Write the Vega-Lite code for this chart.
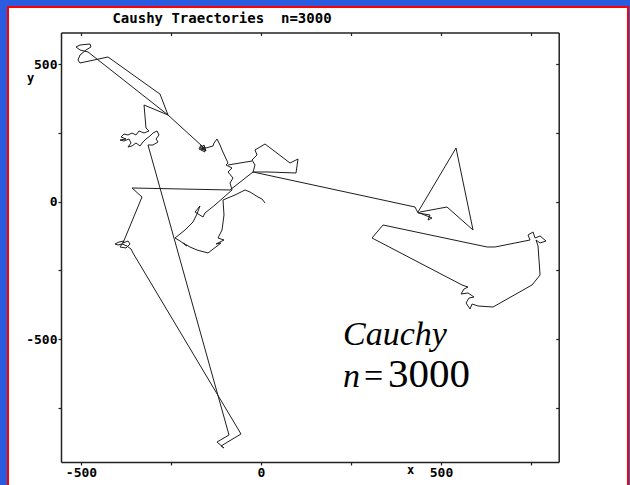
{
  "$schema": "https://vega.github.io/schema/vega-lite/v6.json",
  "width": 620,
  "height": 479,
  "autosize": "none",
  "padding": {"left": 8, "top": 7, "right": 2, "bottom": 0},
  "background": "#2b5ce0",
  "config": {
    "view": {"fill": "white", "stroke": "#ff0000", "strokeWidth": 2},
    "axis": {
      "domainColor": "#222222", "domainWidth": 1.5, "tickColor": "#222222", "tickWidth": 1.2,
      "grid": false, "labelFont": "DejaVu Sans Mono", "labelFontWeight": "bold", "labelFontSize": 13,
      "labelColor": "#000000", "titleFont": "DejaVu Sans Mono", "titleFontWeight": "bold", "titleFontSize": 12, "titleColor": "#000000"
    }
  },
  "title": {
    "text": "Caushy Traectories\u00a0 n=3000",
    "font": "DejaVu Sans Mono", "fontSize": 14, "fontWeight": "bold", "color": "#000000",
    "anchor": "middle", "frame": "group", "offset": 0, "baseline": "middle", "dx": -96, "dy": 26
  },
  "resolve": {"scale": {"x": "shared", "y": "shared"}, "axis": {"x": "independent", "y": "independent"}},
  "layer": [
    {
      "data": {"values": [
        {"seg": 1, "ord": 1, "x": 11.1, "y": -4.7},
        {"seg": 1, "ord": 2, "x": 2.8, "y": 9.8},
        {"seg": 1, "ord": 3, "x": -8.3, "y": 17.1},
        {"seg": 1, "ord": 4, "x": -30.6, "y": 35.3},
        {"seg": 1, "ord": 5, "x": -44.4, "y": 42.6},
        {"seg": 1, "ord": 6, "x": -72.2, "y": 24.4},
        {"seg": 1, "ord": 7, "x": -105.6, "y": 6.2},
        {"seg": 1, "ord": 8, "x": -102.8, "y": -48.4},
        {"seg": 1, "ord": 9, "x": -108.3, "y": -103.0},
        {"seg": 1, "ord": 10, "x": -119.5, "y": -132.1},
        {"seg": 1, "ord": 11, "x": -102.8, "y": -139.4},
        {"seg": 1, "ord": 12, "x": -125.0, "y": -153.9},
        {"seg": 1, "ord": 13, "x": -111.1, "y": -150.3},
        {"seg": 1, "ord": 14, "x": -147.2, "y": -186.7},
        {"seg": 1, "ord": 15, "x": -177.8, "y": -175.8},
        {"seg": 1, "ord": 16, "x": -197.2, "y": -164.8},
        {"seg": 1, "ord": 17, "x": -216.7, "y": -150.3},
        {"seg": 1, "ord": 18, "x": -205.6, "y": -161.2},
        {"seg": 1, "ord": 19, "x": -225.0, "y": -143.0},
        {"seg": 1, "ord": 20, "x": -238.9, "y": -132.1},
        {"seg": 1, "ord": 21, "x": -211.1, "y": -103.0},
        {"seg": 1, "ord": 22, "x": -188.9, "y": -73.9},
        {"seg": 1, "ord": 23, "x": -177.8, "y": -44.8},
        {"seg": 1, "ord": 24, "x": -169.5, "y": -15.6},
        {"seg": 1, "ord": 25, "x": -183.3, "y": -37.5},
        {"seg": 1, "ord": 26, "x": -161.1, "y": -55.7},
        {"seg": 1, "ord": 27, "x": -155.6, "y": -41.1},
        {"seg": 1, "ord": 28, "x": -127.8, "y": -12.0},
        {"seg": 1, "ord": 29, "x": -80.6, "y": 42.6},
        {"seg": 1, "ord": 30, "x": -86.1, "y": 68.0},
        {"seg": 1, "ord": 31, "x": -77.8, "y": 86.2},
        {"seg": 1, "ord": 32, "x": -91.7, "y": 108.1},
        {"seg": 1, "ord": 33, "x": -80.6, "y": 122.6},
        {"seg": 1, "ord": 34, "x": -97.2, "y": 133.6},
        {"seg": 1, "ord": 35, "x": -91.7, "y": 140.8},
        {"seg": 1, "ord": 36, "x": -108.3, "y": 188.1},
        {"seg": 1, "ord": 37, "x": -113.9, "y": 206.3},
        {"seg": 1, "ord": 38, "x": -122.2, "y": 228.2},
        {"seg": 1, "ord": 39, "x": -130.6, "y": 213.6},
        {"seg": 1, "ord": 40, "x": -133.3, "y": 202.7},
        {"seg": 1, "ord": 41, "x": -152.8, "y": 195.4},
        {"seg": 1, "ord": 42, "x": -161.1, "y": 199.1},
        {"seg": 1, "ord": 43, "x": -166.7, "y": 188.1},
        {"seg": 1, "ord": 44, "x": -155.6, "y": 191.8},
        {"seg": 1, "ord": 45, "x": -169.5, "y": 195.4},
        {"seg": 1, "ord": 46, "x": -158.3, "y": 206.3},
        {"seg": 1, "ord": 47, "x": -152.8, "y": 184.4},
        {"seg": 1, "ord": 48, "x": -166.7, "y": 206.3},
        {"seg": 1, "ord": 49, "x": -172.2, "y": 191.8},
        {"seg": 1, "ord": 50, "x": -155.6, "y": 180.9},
        {"seg": 1, "ord": 51, "x": -163.9, "y": 202.7},
        {"seg": 1, "ord": 52, "x": -258.4, "y": 315.5},
        {"seg": 1, "ord": 53, "x": -480.6, "y": 544.8},
        {"seg": 1, "ord": 54, "x": -502.8, "y": 552.0},
        {"seg": 1, "ord": 55, "x": -513.9, "y": 563.0},
        {"seg": 1, "ord": 56, "x": -502.8, "y": 570.2},
        {"seg": 1, "ord": 57, "x": -475.0, "y": 573.9},
        {"seg": 1, "ord": 58, "x": -472.3, "y": 563.0},
        {"seg": 1, "ord": 59, "x": -486.2, "y": 552.0},
        {"seg": 1, "ord": 60, "x": -502.8, "y": 533.8},
        {"seg": 1, "ord": 61, "x": -508.4, "y": 515.6},
        {"seg": 1, "ord": 62, "x": -502.8, "y": 504.7},
        {"seg": 1, "ord": 63, "x": -425.0, "y": 526.6},
        {"seg": 1, "ord": 64, "x": -288.9, "y": 399.2},
        {"seg": 1, "ord": 65, "x": -280.6, "y": 391.9},
        {"seg": 1, "ord": 66, "x": -258.4, "y": 315.5},
        {"seg": 1, "ord": 67, "x": -325.0, "y": 351.9},
        {"seg": 1, "ord": 68, "x": -319.5, "y": 268.2},
        {"seg": 1, "ord": 69, "x": -311.1, "y": 257.3},
        {"seg": 1, "ord": 70, "x": -325.0, "y": 250.0},
        {"seg": 1, "ord": 71, "x": -338.9, "y": 257.3},
        {"seg": 1, "ord": 72, "x": -347.3, "y": 242.7},
        {"seg": 1, "ord": 73, "x": -358.4, "y": 250.0},
        {"seg": 1, "ord": 74, "x": -369.5, "y": 242.7},
        {"seg": 1, "ord": 75, "x": -380.6, "y": 246.4},
        {"seg": 1, "ord": 76, "x": -388.9, "y": 235.4},
        {"seg": 1, "ord": 77, "x": -375.0, "y": 228.2},
        {"seg": 1, "ord": 78, "x": -391.7, "y": 224.5},
        {"seg": 1, "ord": 79, "x": -380.6, "y": 220.9},
        {"seg": 1, "ord": 80, "x": -366.7, "y": 228.2},
        {"seg": 1, "ord": 81, "x": -361.1, "y": 213.6},
        {"seg": 1, "ord": 82, "x": -369.5, "y": 199.1},
        {"seg": 1, "ord": 83, "x": -358.4, "y": 202.7},
        {"seg": 1, "ord": 84, "x": -347.3, "y": 213.6},
        {"seg": 1, "ord": 85, "x": -336.1, "y": 202.7},
        {"seg": 1, "ord": 86, "x": -327.8, "y": 217.3},
        {"seg": 1, "ord": 87, "x": -319.5, "y": 228.2},
        {"seg": 1, "ord": 88, "x": -308.4, "y": 239.1},
        {"seg": 1, "ord": 89, "x": -300.0, "y": 250.0},
        {"seg": 1, "ord": 90, "x": -288.9, "y": 257.3},
        {"seg": 1, "ord": 91, "x": -283.4, "y": 242.7},
        {"seg": 1, "ord": 92, "x": -291.7, "y": 228.2},
        {"seg": 1, "ord": 93, "x": -286.1, "y": 217.3},
        {"seg": 1, "ord": 94, "x": -300.0, "y": 206.3},
        {"seg": 1, "ord": 95, "x": -313.9, "y": 206.3},
        {"seg": 1, "ord": 96, "x": -88.9, "y": -849.0},
        {"seg": 1, "ord": 97, "x": -122.2, "y": -874.5},
        {"seg": 1, "ord": 98, "x": -102.8, "y": -896.3},
        {"seg": 1, "ord": 99, "x": -111.1, "y": -889.0},
        {"seg": 1, "ord": 100, "x": -55.6, "y": -845.3},
        {"seg": 1, "ord": 101, "x": -355.6, "y": -186.7},
        {"seg": 1, "ord": 102, "x": -361.1, "y": -172.1},
        {"seg": 1, "ord": 103, "x": -372.2, "y": -161.2},
        {"seg": 1, "ord": 104, "x": -386.1, "y": -153.9},
        {"seg": 1, "ord": 105, "x": -397.3, "y": -157.6},
        {"seg": 1, "ord": 106, "x": -405.6, "y": -153.9},
        {"seg": 1, "ord": 107, "x": -394.5, "y": -146.7},
        {"seg": 1, "ord": 108, "x": -380.6, "y": -143.0},
        {"seg": 1, "ord": 109, "x": -391.7, "y": -164.8},
        {"seg": 1, "ord": 110, "x": -375.0, "y": -168.5},
        {"seg": 1, "ord": 111, "x": -363.9, "y": -153.9},
        {"seg": 1, "ord": 112, "x": -369.5, "y": -143.0},
        {"seg": 1, "ord": 113, "x": -383.4, "y": -150.3},
        {"seg": 1, "ord": 114, "x": -330.6, "y": 17.1},
        {"seg": 1, "ord": 115, "x": -358.4, "y": 49.9},
        {"seg": 1, "ord": 116, "x": -86.1, "y": 42.6},
        {"seg": 1, "ord": 117, "x": -22.2, "y": 108.1},
        {"seg": 1, "ord": 118, "x": -16.7, "y": 133.6},
        {"seg": 1, "ord": 119, "x": -25.0, "y": 151.7},
        {"seg": 1, "ord": 120, "x": -11.1, "y": 169.9},
        {"seg": 1, "ord": 121, "x": -16.7, "y": 188.1},
        {"seg": 1, "ord": 122, "x": -2.8, "y": 199.1},
        {"seg": 1, "ord": 123, "x": 11.1, "y": 210.0},
        {"seg": 1, "ord": 124, "x": 80.6, "y": 140.8},
        {"seg": 1, "ord": 125, "x": 102.8, "y": 155.4},
        {"seg": 1, "ord": 126, "x": 97.2, "y": 104.4},
        {"seg": 1, "ord": 127, "x": 19.4, "y": 108.1},
        {"seg": 1, "ord": 128, "x": -22.2, "y": 108.1},
        {"seg": 1, "ord": 129, "x": 427.8, "y": -19.3},
        {"seg": 1, "ord": 130, "x": 436.1, "y": -41.1},
        {"seg": 1, "ord": 131, "x": 469.5, "y": -48.4},
        {"seg": 1, "ord": 132, "x": 463.9, "y": -66.6},
        {"seg": 1, "ord": 133, "x": 475.0, "y": -59.3},
        {"seg": 1, "ord": 134, "x": 447.3, "y": -44.8},
        {"seg": 1, "ord": 135, "x": 436.1, "y": -37.5},
        {"seg": 1, "ord": 136, "x": 541.7, "y": 195.4},
        {"seg": 1, "ord": 137, "x": 588.9, "y": -103.0},
        {"seg": 1, "ord": 138, "x": 516.7, "y": -19.3},
        {"seg": 1, "ord": 139, "x": 441.7, "y": -37.5},
        {"seg": 2, "ord": 1, "x": 338.9, "y": -84.8},
        {"seg": 2, "ord": 2, "x": 627.8, "y": -164.8},
        {"seg": 2, "ord": 3, "x": 650.1, "y": -164.8},
        {"seg": 2, "ord": 4, "x": 747.3, "y": -139.4},
        {"seg": 2, "ord": 5, "x": 741.7, "y": -121.2},
        {"seg": 2, "ord": 6, "x": 755.6, "y": -110.3},
        {"seg": 2, "ord": 7, "x": 761.2, "y": -132.1},
        {"seg": 2, "ord": 8, "x": 775.1, "y": -124.8},
        {"seg": 2, "ord": 9, "x": 791.7, "y": -143.0},
        {"seg": 2, "ord": 10, "x": 775.1, "y": -150.3},
        {"seg": 2, "ord": 11, "x": 763.9, "y": -139.4},
        {"seg": 2, "ord": 12, "x": 769.5, "y": -161.2},
        {"seg": 2, "ord": 13, "x": 775.1, "y": -266.7},
        {"seg": 2, "ord": 14, "x": 752.8, "y": -303.1},
        {"seg": 2, "ord": 15, "x": 644.5, "y": -383.2},
        {"seg": 2, "ord": 16, "x": 602.8, "y": -379.5},
        {"seg": 2, "ord": 17, "x": 586.2, "y": -372.3},
        {"seg": 2, "ord": 18, "x": 580.6, "y": -390.5},
        {"seg": 2, "ord": 19, "x": 569.5, "y": -368.6},
        {"seg": 2, "ord": 20, "x": 577.8, "y": -350.4},
        {"seg": 2, "ord": 21, "x": 591.7, "y": -346.8},
        {"seg": 2, "ord": 22, "x": 575.0, "y": -332.2},
        {"seg": 2, "ord": 23, "x": 555.6, "y": -335.9},
        {"seg": 2, "ord": 24, "x": 563.9, "y": -317.7},
        {"seg": 2, "ord": 25, "x": 575.0, "y": -310.4},
        {"seg": 2, "ord": 26, "x": 558.4, "y": -303.1},
        {"seg": 2, "ord": 27, "x": 308.4, "y": -132.1},
        {"seg": 2, "ord": 28, "x": 338.9, "y": -84.8},
        {"seg": 3, "ord": 1, "x": -91.7, "y": 133.6},
        {"seg": 3, "ord": 2, "x": -58.3, "y": 140.8},
        {"seg": 3, "ord": 3, "x": -25.0, "y": 148.1}
      ]},
      "mark": {"type": "line", "color": "#1e1e1e", "strokeWidth": 1, "interpolate": "linear"},
      "encoding": {
        "x": {"field": "x", "type": "quantitative",
          "scale": {"domain": [-555.6, 826.9], "range": [53, 550.7], "nice": false, "zero": false},
          "axis": {"orient": "bottom", "offset": -24, "values": [-500, -250, 0, 250, 500, 750], "tickSize": 3, "labelPadding": 1,
            "labelExpr": "datum.value % 500 == 0 ? '' + datum.value : ''", "labelBaseline": "top",
            "title": "x", "titleX": 402, "titleY": 7, "titleBaseline": "middle", "titleAlign": "center"}},
        "y": {"field": "y", "type": "quantitative",
          "scale": {"domain": [-947.2, 615.7], "range": [455, 25.5], "nice": false, "zero": false},
          "axis": {"orient": "left", "offset": -53, "values": [-750, -500, -250, 0, 250, 500], "tickSize": 3, "labelPadding": 1,
            "labelExpr": "datum.value % 500 == 0 ? '' + datum.value : ''", "labelBaseline": "middle",
            "title": "y", "titleAngle": 0, "titleX": -31, "titleY": 70, "titleBaseline": "middle", "titleAlign": "center"}},
        "detail": {"field": "seg", "type": "nominal"},
        "order": {"field": "ord", "type": "quantitative"}
      }
    },
    {
      "data": {"values": [{"label": "Cauchy"}]},
      "mark": {"type": "text", "font": "Liberation Serif", "fontStyle": "italic", "fontSize": 34, "align": "left", "baseline": "alphabetic", "color": "#000000"},
      "encoding": {
        "text": {"field": "label"},
        "x": {"datum": 227.8, "type": "quantitative",
          "axis": {"orient": "top", "offset": -25.5, "values": [-500, -250, 0, 250, 500, 750], "tickSize": -3, "labels": false, "title": null}},
        "y": {"datum": -521.5, "type": "quantitative",
          "axis": {"orient": "right", "offset": -69.3, "values": [-750, -500, -250, 0, 250, 500], "tickSize": -3, "labels": false, "title": null}}
      }
    },
    {
      "data": {"values": [{"label": "n"}]},
      "mark": {"type": "text", "font": "Liberation Serif", "fontStyle": "italic", "fontSize": 34, "align": "left", "baseline": "alphabetic", "color": "#000000"},
      "encoding": {
        "text": {"field": "label"},
        "x": {"datum": 227.8, "type": "quantitative", "axis": null},
        "y": {"datum": -674.3, "type": "quantitative", "axis": null}
      }
    },
    {
      "data": {"values": [{"label": "="}]},
      "mark": {"type": "text", "font": "Liberation Serif", "fontSize": 34, "align": "left", "baseline": "alphabetic", "color": "#000000"},
      "encoding": {
        "text": {"field": "label"},
        "x": {"datum": 286.1, "type": "quantitative", "axis": null},
        "y": {"datum": -674.3, "type": "quantitative", "axis": null}
      }
    },
    {
      "data": {"values": [{"label": "3000"}]},
      "mark": {"type": "text", "font": "Liberation Serif", "fontSize": 41, "align": "left", "baseline": "alphabetic", "color": "#000000"},
      "encoding": {
        "text": {"field": "label"},
        "x": {"datum": 352.8, "type": "quantitative", "axis": null},
        "y": {"datum": -674.3, "type": "quantitative", "axis": null}
      }
    }
  ]
}
